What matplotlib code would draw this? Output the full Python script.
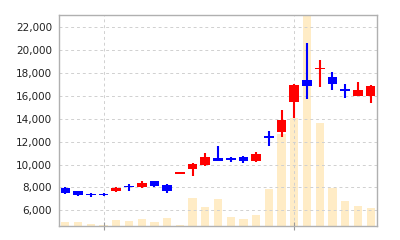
import matplotlib
matplotlib.use("Agg")
import matplotlib.pyplot as plt
import numpy as np

# ---------------------------------------------------------
# Datos
# ---------------------------------------------------------
opens = [7980, 7670, 7450, 7400, 7700, 8150, 8000, 8550, 8250, 9200,
         9650, 9950, 10550, 10550, 10650, 10350, 12500, 12850, 15450, 17350,
         18350, 17650, 16600, 16000, 15950]
closes = [7550, 7300, 7300, 7330, 7970, 8050, 8400, 8150, 7700, 9330,
          10050, 10650, 10350, 10400, 10300, 10900, 12350, 13900, 16950, 16850,
          18450, 17050, 16450, 16500, 16850]
highs = [8000, 7700, 7550, 7480, 8000, 8300, 8600, 8600, 8300, 9330,
         10100, 11050, 11600, 10650, 10750, 11100, 12950, 14750, 17000, 20600,
         19150, 18100, 17000, 17200, 16950]
lows = [7430, 7250, 7200, 7280, 7600, 7650, 7950, 8050, 7500, 9200,
        9000, 9900, 10300, 10200, 10150, 10200, 11650, 12450, 14050, 15750,
        16800, 16500, 15800, 16000, 15400]
volumes = [40, 40, 20, 13, 63, 53, 70, 37, 83, 13,
           283, 193, 267, 87, 73, 110, 367, 920, 1087, 2600,
           1027, 383, 250, 197, 180]

y_ticks = [6000, 8000, 10000, 12000, 14000, 16000, 18000, 20000, 22000]
separadores = [3, 18]

# ---------------------------------------------------------
# Gráfica
# ---------------------------------------------------------
fig = plt.figure(figsize=(4, 2.4), dpi=100)
ax = fig.add_axes([0.1475, 0.0583, 0.795, 0.8805])
ax_vol = ax.twinx()

x = np.arange(len(opens))

# volumen al fondo
ax_vol.bar(x, volumes, width=0.65, color="#FFECC6", zorder=1)
ax_vol.set_ylim(0, 2117)
ax_vol.set_yticks([])
for s in ax_vol.spines.values():
    s.set_visible(False)

ax.set_zorder(ax_vol.get_zorder() + 1)
ax.patch.set_visible(False)

colores = ["#FF0000" if c >= o else "#0000FF" for o, c in zip(opens, closes)]
ax.vlines(x, lows, highs, colors=colores, linewidth=1.5, zorder=3)
bottoms = np.minimum(opens, closes)
heights = np.maximum(np.abs(np.array(closes) - np.array(opens)), 120)
ax.bar(x, heights, bottom=bottoms, width=0.76, color=colores, zorder=4)

ax.set_xlim(-0.5, len(opens) - 0.5)
ax.set_ylim(4630, 23100)
ax.set_yticks(y_ticks)
ax.set_yticklabels([f"{v:,}" for v in y_ticks], fontsize=7.5, color="#222222")
ax.tick_params(axis="y", length=0, pad=5)
ax.set_xticks(separadores)
ax.set_xticklabels([])
ax.tick_params(axis="x", direction="inout", length=6, color="#999999")

ax.grid(True, linestyle=(0, (3, 3)), color="#d0d0d0", linewidth=0.7)
ax.set_axisbelow(True)
for s in ax.spines.values():
    s.set_color("#b0b0b0")
    s.set_linewidth(1)

plt.savefig("out.png", dpi=100)
